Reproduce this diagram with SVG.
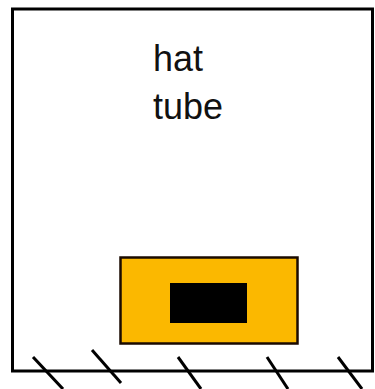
<svg xmlns="http://www.w3.org/2000/svg" width="375" height="389" viewBox="0 0 375 389">
<style>
.ln{stroke:#000;stroke-width:3;fill:none;stroke-linecap:butt}
.lbl{font-family:"Liberation Sans",Arial,sans-serif;font-size:37px;fill:#111}
</style>
<rect width="375" height="389" fill="#fff"/>
<g id="box">
<rect class="ln" x="12.5" y="9" width="360" height="362"/>
</g>
<g id="labels">
<text class="lbl" x="153" y="71" textLength="50" lengthAdjust="spacingAndGlyphs">hat</text>
<text class="lbl" x="153" y="119" textLength="70" lengthAdjust="spacingAndGlyphs">tube</text>
</g>
<g id="heater">
<rect x="120.5" y="257.5" width="177" height="86" fill="#fbb800" stroke="#1a0a00" stroke-width="2.5"/>
<rect x="170" y="283" width="77" height="40" fill="#000"/>
</g>
<g id="hatching">
<line class="ln" x1="33" y1="357" x2="63" y2="389"/>
<line class="ln" x1="92" y1="350" x2="121" y2="383"/>
<line class="ln" x1="178" y1="357" x2="201" y2="389"/>
<line class="ln" x1="267" y1="357" x2="288" y2="389"/>
<line class="ln" x1="338" y1="357" x2="362" y2="389"/>
</g>
</svg>
